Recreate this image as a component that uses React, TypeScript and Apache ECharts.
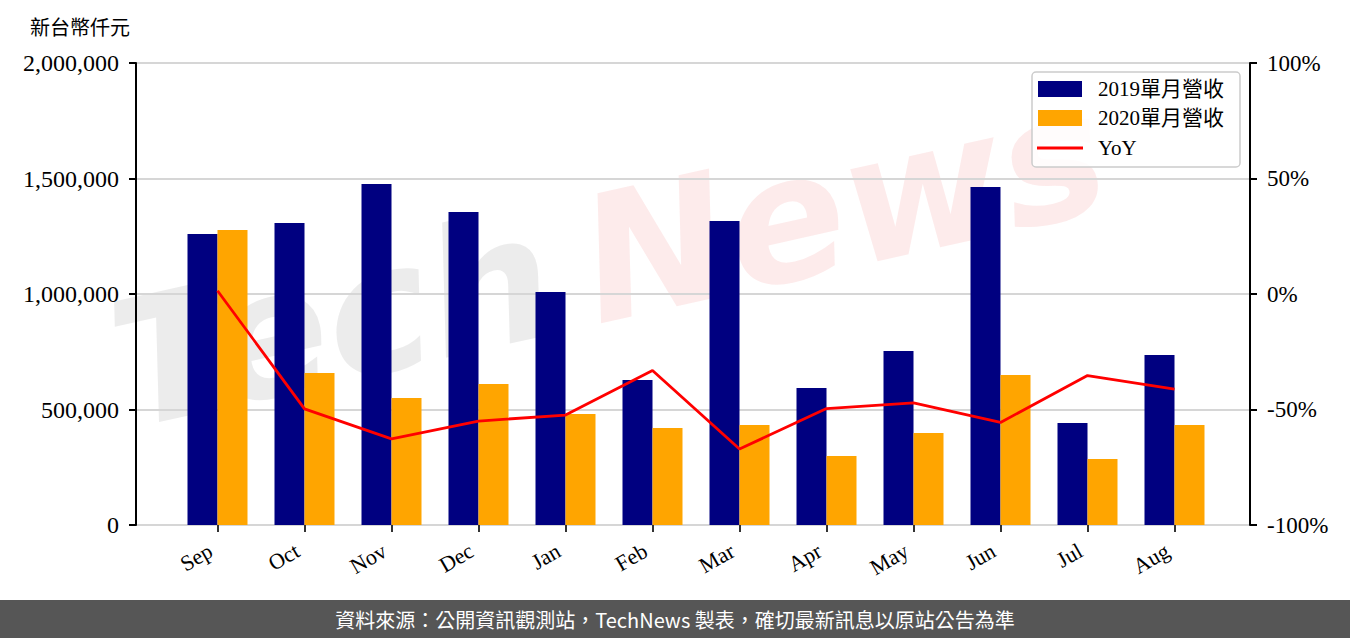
import React, { useEffect, useRef } from "react";
import * as echarts from "echarts";

const categories = ["Sep", "Oct", "Nov", "Dec", "Jan", "Feb", "Mar", "Apr", "May", "Jun", "Jul", "Aug"];
const rev2019 = [1260000, 1307000, 1476000, 1355000, 1009000, 628000, 1316000, 593000, 753000, 1463000, 442000, 736000];
const rev2020 = [1277000, 658000, 550000, 610000, 480000, 420000, 433000, 299000, 398000, 649000, 286000, 433000];
const yoy = [1.4, -49.7, -62.7, -55.0, -52.4, -33.1, -67.1, -49.6, -47.1, -55.6, -35.3, -41.2];
const seriesNames = ["2019單月營收", "2020單月營收", "YoY"];
const seriesColors = ["#000080", "#FFA500", "#FF0000"];
const leftTicks = { min: 0, max: 2000000, interval: 500000 };
const rightTicks = { min: -100, max: 100, interval: 50 };
const unitLabel = "新台幣仟元";
const footerText = "資料來源：公開資訊觀測站，TechNews 製表，確切最新訊息以原站公告為準";

const SERIF = "'Liberation Serif', 'DejaVu Serif', 'Noto Sans CJK TC', serif";

export default function App() {
  const ref = useRef<HTMLDivElement>(null);
  useEffect(() => {
    if (!ref.current) return;
    const chart = echarts.init(ref.current, undefined, { renderer: "svg" });
    const frameTop = 63;
    const frameBottom = 638 - 525;
    const legendX = 1032;
    const legendY = 72;
    const rowY = [89, 118, 148];
    chart.setOption({
      animation: false,
      backgroundColor: "#fff",
      grid: [
        { left: 136, right: 100, top: frameTop, bottom: frameBottom, show: true, borderColor: "#000", borderWidth: 2, backgroundColor: "transparent", z: 0 },
        { left: 174, right: 132, top: frameTop, bottom: frameBottom },
      ],
      xAxis: [
        { gridIndex: 0, type: "value", min: 0, max: 1, show: false },
        {
          gridIndex: 1,
          type: "category",
          data: categories,
          axisLine: { show: false },
          axisTick: { show: true, alignWithLabel: true, length: 7, lineStyle: { color: "#333", width: 2 } },
          axisLabel: { rotate: 30, fontFamily: SERIF, fontSize: 22, color: "#000", margin: 20, padding: [0, 8, 0, 0] },
          splitLine: { show: false },
        },
      ],
      yAxis: [
        {
          gridIndex: 0,
          type: "value",
          position: "left",
          ...leftTicks,
          axisLine: { show: true, lineStyle: { color: "#000", width: 2 } },
          axisTick: { show: true, length: 7, lineStyle: { color: "#000", width: 2 } },
          axisLabel: { fontFamily: SERIF, fontSize: 24, color: "#000", margin: 17, formatter: (v: number) => v.toLocaleString("en-US") },
          splitLine: { show: true, lineStyle: { color: "#d6d6d6", width: 2 } },
        },
        {
          gridIndex: 0,
          type: "value",
          position: "right",
          ...rightTicks,
          axisLine: { show: true, lineStyle: { color: "#000", width: 2 } },
          axisTick: { show: true, length: 7, lineStyle: { color: "#000", width: 2 } },
          axisLabel: { fontFamily: SERIF, fontSize: 23, color: "#000", margin: 17, formatter: (v: number) => `${v}%` },
          splitLine: { show: false },
        },
        { gridIndex: 1, type: "value", ...leftTicks, show: false, splitLine: { show: false } },
        { gridIndex: 1, type: "value", ...rightTicks, show: false, splitLine: { show: false } },
      ],
      series: [
        { name: seriesNames[0], type: "bar", xAxisIndex: 1, yAxisIndex: 2, data: rev2019, barWidth: 30, barGap: "0%", itemStyle: { color: seriesColors[0] }, z: 2 },
        { name: seriesNames[1], type: "bar", xAxisIndex: 1, yAxisIndex: 2, data: rev2020, barWidth: 30, barGap: "0%", itemStyle: { color: seriesColors[1] }, z: 2 },
        { name: seriesNames[2], type: "line", xAxisIndex: 1, yAxisIndex: 3, data: yoy, symbol: "none", lineStyle: { color: seriesColors[2], width: 2.8 }, itemStyle: { color: seriesColors[2] }, z: 3 },
      ],
      graphic: [
        {
          type: "group",
          x: 135,
          y: 455,
          rotation: 0.22,
          silent: true,
          z: 50,
          children: [
            { type: "text", x: 0, y: 0, style: { text: "Tech", fontSize: 175, fontStyle: "italic", fontWeight: "bold", fontFamily: "'DejaVu Sans', sans-serif", fill: "rgba(140,140,140,0.17)", textVerticalAlign: "bottom" } },
            { type: "text", x: 480, y: 0, style: { text: "News", fontSize: 175, fontStyle: "italic", fontWeight: "bold", fontFamily: "'DejaVu Sans', sans-serif", fill: "rgba(235,90,90,0.12)", textVerticalAlign: "bottom" } },
          ],
        },
        {
          type: "group",
          z: 60,
          children: [
            { type: "rect", x: legendX, y: legendY, shape: { width: 208, height: 95, r: 4 }, style: { fill: "rgba(255,255,255,0.85)", stroke: "#cccccc", lineWidth: 1.5 } },
            { type: "rect", x: 1038, y: rowY[0] - 8, shape: { width: 44, height: 16 }, style: { fill: seriesColors[0] } },
            { type: "rect", x: 1038, y: rowY[1] - 8, shape: { width: 44, height: 16 }, style: { fill: seriesColors[1] } },
            { type: "line", shape: { x1: 1037, y1: rowY[2], x2: 1083, y2: rowY[2] }, style: { stroke: seriesColors[2], lineWidth: 3 } },
            { type: "text", x: 1098, y: rowY[0], style: { text: seriesNames[0], fontSize: 21, fontFamily: SERIF, fill: "#000", verticalAlign: "middle" } },
            { type: "text", x: 1098, y: rowY[1], style: { text: seriesNames[1], fontSize: 21, fontFamily: SERIF, fill: "#000", verticalAlign: "middle" } },
            { type: "text", x: 1098, y: rowY[2], style: { text: seriesNames[2], fontSize: 21, fontFamily: SERIF, fill: "#000", verticalAlign: "middle" } },
          ],
        },
        { type: "text", left: 30, top: 16, style: { text: unitLabel, fontSize: 20, fontFamily: "'Noto Sans CJK TC', sans-serif", fill: "#000" } },
        { type: "rect", left: 0, top: 600, shape: { width: 1350, height: 38 }, style: { fill: "#565656" } },
        { type: "text", x: 675, y: 619, style: { text: footerText, fontSize: 20, fontFamily: "'Noto Sans CJK TC', 'Noto Sans', sans-serif", fill: "#fff", align: "center", verticalAlign: "middle" } },
      ],
    });
    return () => chart.dispose();
  }, []);
  return <div ref={ref} style={{ position: "fixed", left: 0, top: 0, width: 1350, height: 638 }} />;
}
